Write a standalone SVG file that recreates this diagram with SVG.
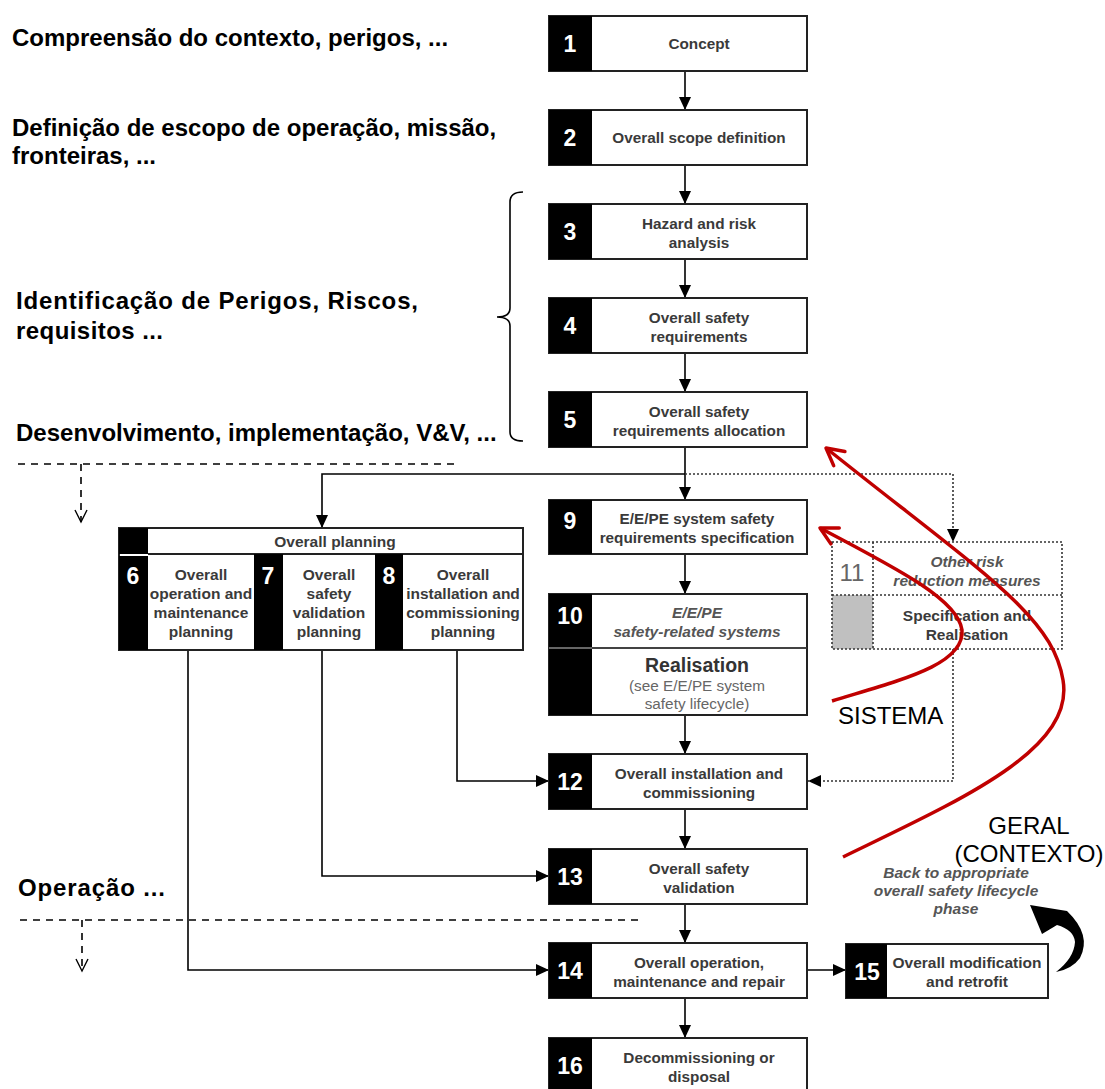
<svg xmlns="http://www.w3.org/2000/svg" width="1105" height="1089" viewBox="0 0 1105 1089">
  <style>
    .box { fill: #fff; stroke: #222; stroke-width: 2; }
    .blk { fill: #000; }
    .dot { fill: none; stroke: #333; stroke-width: 1.6; stroke-dasharray: 2 2; }
    .n { font-family: "Liberation Sans", Arial, sans-serif; font-weight: bold; font-size: 23px; fill: #fff; text-anchor: middle; }
    .t { font-family: "Liberation Sans", Arial, sans-serif; font-weight: bold; font-size: 15.3px; fill: #3a3a3a; text-anchor: middle; }
    .ti { font-family: "Liberation Sans", Arial, sans-serif; font-weight: bold; font-style: italic; font-size: 15.5px; fill: #555; text-anchor: middle; }
    .tp { font-family: "Liberation Sans", Arial, sans-serif; font-weight: bold; font-size: 15.5px; fill: #3a3a3a; text-anchor: middle; }
    .lbl { font-family: "Liberation Sans", Arial, sans-serif; font-weight: bold; font-size: 24px; fill: #000; }
    .note { font-family: "Liberation Sans", Arial, sans-serif; font-size: 24px; fill: #000; }
    .con { fill: none; stroke: #000; stroke-width: 1.6; }
    .dash { fill: none; stroke: #000; stroke-width: 1.6; stroke-dasharray: 7 6; }
    .red { fill: none; stroke: #c00000; stroke-width: 3.5; }
  </style>
  <defs>
    <marker id="arr" markerUnits="userSpaceOnUse" markerWidth="14" markerHeight="12" viewBox="0 0 14 12" refX="13" refY="6" orient="auto">
      <path d="M0,0 L13,6 L0,12 z" fill="#000"/>
    </marker>
    <marker id="vopen" markerUnits="userSpaceOnUse" markerWidth="16" markerHeight="16" viewBox="-14 -8 16 16" refX="0" refY="0" orient="auto" overflow="visible">
      <path d="M-12,-6 L0,0 L-12,6" fill="none" stroke="#000" stroke-width="1.4"/>
    </marker>
    <marker id="rarr" markerUnits="userSpaceOnUse" markerWidth="24" markerHeight="24" viewBox="-20 -12 24 24" refX="0" refY="0" orient="auto" overflow="visible">
      <path d="M-17,-9 L0,0 L-17,9" fill="none" stroke="#c00000" stroke-width="3.5" stroke-linecap="round" stroke-linejoin="round"/>
    </marker>
  </defs>

  <!-- phase annotations -->
  <g id="annotations">
    <text class="lbl" x="12" y="46">Compreensão do contexto, perigos, ...</text>
    <text class="lbl" x="12" y="136">Definição de escopo de operação, missão,</text>
    <text class="lbl" x="12" y="164">fronteiras, ...</text>
    <text class="lbl" x="16" y="309" font-size="26" textLength="402" lengthAdjust="spacing">Identificação de Perigos, Riscos,</text>
    <text class="lbl" x="16" y="339" font-size="26" textLength="147" lengthAdjust="spacing">requisitos ...</text>
    <text class="lbl" x="16" y="441">Desenvolvimento, implementação, V&amp;V, ...</text>
    <text class="lbl" x="18" y="896" font-size="26" textLength="147" lengthAdjust="spacing">Operação ...</text>
    <path d="M523,192 Q510,192 510,202 L510,308 Q510,317 497,317 Q510,317 510,326 L510,432 Q510,441 523,441" fill="none" stroke="#000" stroke-width="1.6"/>
    <path class="dash" d="M18,464 H455"/>
    <path class="dash" d="M81,464 V522" marker-end="url(#vopen)"/>
    <path class="dash" d="M20,920 H642"/>
    <path class="dash" d="M82,920 V971" marker-end="url(#vopen)"/>
  </g>

  <!-- connectors -->
  <g id="connectors">
    <path class="con" d="M685,71 V110" marker-end="url(#arr)"/>
    <path class="con" d="M685,165 V204" marker-end="url(#arr)"/>
    <path class="con" d="M685,259 V298" marker-end="url(#arr)"/>
    <path class="con" d="M685,353 V392" marker-end="url(#arr)"/>
    <path class="con" d="M685,447 V500" marker-end="url(#arr)"/>
    <path class="con" d="M685,474 H322 V528" marker-end="url(#arr)"/>
    <path class="dot" d="M685,474 H953 V542" marker-end="url(#arr)"/>
    <path class="con" d="M685,554 V594" marker-end="url(#arr)"/>
    <path class="con" d="M685,715 V754" marker-end="url(#arr)"/>
    <path class="dot" d="M953,649 V781 H808" marker-end="url(#arr)"/>
    <path class="con" d="M457,650 V781 H549" marker-end="url(#arr)"/>
    <path class="con" d="M685,809 V849" marker-end="url(#arr)"/>
    <path class="con" d="M322,650 V876 H549" marker-end="url(#arr)"/>
    <path class="con" d="M685,904 V943" marker-end="url(#arr)"/>
    <path class="con" d="M188,650 V970 H549" marker-end="url(#arr)"/>
    <path class="con" d="M807,970 H846" marker-end="url(#arr)"/>
    <path class="con" d="M685,998 V1038" marker-end="url(#arr)"/>
  </g>

  <!-- lifecycle phases -->
  <g id="n1">
    <rect class="box" x="549" y="16" width="258" height="55"/>
    <rect class="blk" x="549" y="16" width="43" height="55"/>
    <text class="n" x="570" y="52">1</text>
    <text class="t" x="699" y="49">Concept</text>
  </g>
  <g id="n2">
    <rect class="box" x="549" y="110" width="258" height="55"/>
    <rect class="blk" x="549" y="110" width="43" height="55"/>
    <text class="n" x="570" y="146">2</text>
    <text class="t" x="699" y="143">Overall scope definition</text>
  </g>
  <g id="n3">
    <rect class="box" x="549" y="204" width="258" height="55"/>
    <rect class="blk" x="549" y="204" width="43" height="55"/>
    <text class="n" x="570" y="240">3</text>
    <text class="t" x="699" y="229">Hazard and risk</text>
    <text class="t" x="699" y="248">analysis</text>
  </g>
  <g id="n4">
    <rect class="box" x="549" y="298" width="258" height="55"/>
    <rect class="blk" x="549" y="298" width="43" height="55"/>
    <text class="n" x="570" y="334">4</text>
    <text class="t" x="699" y="323">Overall safety</text>
    <text class="t" x="699" y="342">requirements</text>
  </g>
  <g id="n5">
    <rect class="box" x="549" y="392" width="258" height="55"/>
    <rect class="blk" x="549" y="392" width="43" height="55"/>
    <text class="n" x="570" y="428">5</text>
    <text class="t" x="699" y="417">Overall safety</text>
    <text class="t" x="699" y="436">requirements allocation</text>
  </g>
  <g id="n9">
    <rect class="box" x="549" y="500" width="258" height="54"/>
    <rect class="blk" x="549" y="500" width="43" height="54"/>
    <text class="n" x="570" y="529">9</text>
    <text class="t" x="697" y="524">E/E/PE system safety</text>
    <text class="t" x="697" y="543">requirements specification</text>
  </g>
  <g id="n10">
    <rect class="box" x="549" y="594" width="258" height="121"/>
    <rect class="blk" x="549" y="594" width="43" height="121"/>
    <line x1="549" y1="648" x2="807" y2="648" stroke="#888" stroke-width="1.5"/>
    <line x1="592" y1="648" x2="807" y2="648" stroke="#222" stroke-width="1.5"/>
    <text class="n" x="570" y="624">10</text>
    <text class="ti" x="697" y="618">E/E/PE</text>
    <text class="ti" x="697" y="637">safety-related systems</text>
    <text x="697" y="672" font-family="Liberation Sans, Arial, sans-serif" font-weight="bold" font-size="19.5" fill="#333" text-anchor="middle">Realisation</text>
    <text x="697" y="691" font-family="Liberation Sans, Arial, sans-serif" font-size="15.3" fill="#666" text-anchor="middle">(see E/E/PE system</text>
    <text x="697" y="709" font-family="Liberation Sans, Arial, sans-serif" font-size="15.3" fill="#666" text-anchor="middle">safety lifecycle)</text>
  </g>
  <g id="n11">
    <rect x="832" y="595" width="41" height="54" fill="#c0c0c0"/>
    <rect class="dot" x="832" y="542" width="230" height="107"/>
    <line class="dot" x1="832" y1="595" x2="1062" y2="595"/>
    <line class="dot" x1="873" y1="542" x2="873" y2="649"/>
    <text x="852" y="581" font-family="Liberation Sans, Arial, sans-serif" font-size="24" fill="#666" text-anchor="middle">11</text>
    <text class="ti" x="967" y="567">Other risk</text>
    <text class="ti" x="967" y="586">reduction measures</text>
    <text class="tp" x="967" y="621" fill="#555">Specification and</text>
    <text class="tp" x="967" y="640" fill="#555">Realisation</text>
  </g>
  <g id="n6-8">
    <rect class="box" x="119" y="528" width="404" height="122"/>
    <rect class="blk" x="119" y="528" width="29" height="26"/>
    <line x1="148" y1="554" x2="523" y2="554" stroke="#222" stroke-width="2"/>
    <rect class="blk" x="119" y="556" width="29" height="94"/>
    <rect class="blk" x="254" y="554" width="29" height="96"/>
    <rect class="blk" x="375" y="554" width="28" height="96"/>
    <text class="tp" x="335" y="547">Overall planning</text>
    <text class="n" x="133" y="584">6</text>
    <text class="n" x="268" y="584">7</text>
    <text class="n" x="389" y="584">8</text>
    <text class="tp" x="201" y="580">Overall</text>
    <text class="tp" x="201" y="599">operation and</text>
    <text class="tp" x="201" y="618">maintenance</text>
    <text class="tp" x="201" y="637">planning</text>
    <text class="tp" x="329" y="580">Overall</text>
    <text class="tp" x="329" y="599">safety</text>
    <text class="tp" x="329" y="618">validation</text>
    <text class="tp" x="329" y="637">planning</text>
    <text class="tp" x="463" y="580">Overall</text>
    <text class="tp" x="463" y="599">installation and</text>
    <text class="tp" x="463" y="618">commissioning</text>
    <text class="tp" x="463" y="637">planning</text>
  </g>
  <g id="n12">
    <rect class="box" x="549" y="754" width="258" height="55"/>
    <rect class="blk" x="549" y="754" width="43" height="55"/>
    <text class="n" x="570" y="790">12</text>
    <text class="t" x="699" y="779">Overall installation and</text>
    <text class="t" x="699" y="798">commissioning</text>
  </g>
  <g id="n13">
    <rect class="box" x="549" y="849" width="258" height="55"/>
    <rect class="blk" x="549" y="849" width="43" height="55"/>
    <text class="n" x="570" y="885">13</text>
    <text class="t" x="699" y="874">Overall safety</text>
    <text class="t" x="699" y="893">validation</text>
  </g>
  <g id="n14">
    <rect class="box" x="549" y="943" width="258" height="55"/>
    <rect class="blk" x="549" y="943" width="43" height="55"/>
    <text class="n" x="570" y="979">14</text>
    <text class="t" x="699" y="968">Overall operation,</text>
    <text class="t" x="699" y="987">maintenance and repair</text>
  </g>
  <g id="n15">
    <rect class="box" x="846" y="944" width="202" height="54"/>
    <rect class="blk" x="846" y="944" width="41" height="54"/>
    <text class="n" x="867" y="980">15</text>
    <text class="tp" x="967" y="968" font-size="16">Overall modification</text>
    <text class="tp" x="967" y="987" font-size="16">and retrofit</text>
  </g>
  <g id="n16">
    <rect class="box" x="549" y="1038" width="258" height="56"/>
    <rect class="blk" x="549" y="1038" width="43" height="56"/>
    <text class="n" x="570" y="1074">16</text>
    <text class="t" x="699" y="1063">Decommissioning or</text>
    <text class="t" x="699" y="1082">disposal</text>
  </g>

  <!-- return loop from phase 15 -->
  <g id="back">
    <text class="ti" x="956" y="878">Back to appropriate</text>
    <text class="ti" x="956" y="896">overall safety lifecycle</text>
    <text class="ti" x="956" y="914">phase</text>
    <path d="M1030,905 L1067,911 Q1092,935 1080,958 Q1072,969 1056,972 Q1074,958 1075,942 Q1074,930 1057,925 L1042,934 Z" fill="#000"/>
  </g>

  <!-- scope overlays -->
  <g id="scopes">
    <path class="red" d="M843,857 C960,800 1075,750 1063,680 C1052,615 985,575 826,448" marker-end="url(#rarr)"/>
    <path class="red" d="M832,701 C900,680 965,665 962,630 C958,600 900,570 820,528" marker-end="url(#rarr)"/>
    <text class="note" x="838" y="724">SISTEMA</text>
    <text class="note" x="1029" y="834" text-anchor="middle">GERAL</text>
    <text class="note" x="1029" y="862" text-anchor="middle">(CONTEXTO)</text>
  </g>
</svg>
